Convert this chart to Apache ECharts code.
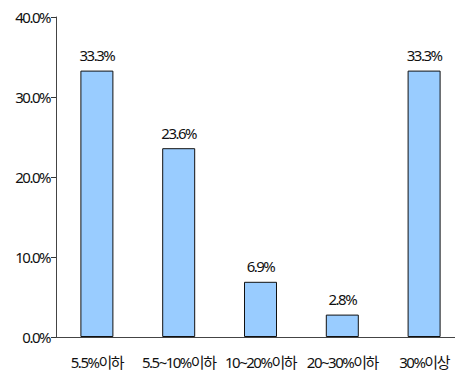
<!DOCTYPE html>
<html><head><meta charset="utf-8">
<script src="https://cdn.jsdelivr.net/npm/echarts@6/dist/echarts.min.js"></script>
<style>html,body{margin:0;padding:0;background:#fff;overflow:hidden;}#c{width:455px;height:372px;}
#c text{letter-spacing:-1.5px;}</style>
</head><body><div id="c"></div>
<script>
var categories = ['5.5%이하', '5.5~10%이하', '10~20%이하', '20~30%이하', '30%이상'];
var values = [33.3, 23.6, 6.9, 2.8, 33.3];
var yTicks = [0, 10, 20, 30, 40];
var FONT = "'Noto Sans', 'Noto Sans CJK KR', sans-serif";
var chart = echarts.init(document.getElementById('c'), null, {renderer: 'svg'});
chart.setOption({
  animation: false,
  backgroundColor: '#fff',
  grid: {left: 56, top: 17, right: -10, bottom: 35, containLabel: false, outerBoundsMode: 'none'},
  xAxis: {
    type: 'category', data: categories,
    axisLine: {lineStyle: {color: '#444', width: 1}},
    axisTick: {inside: true, length: 5, lineStyle: {color: '#333'}},
    axisLabel: {color: '#111', fontSize: 15, fontFamily: FONT, margin: 17, interval: 0}
  },
  yAxis: {
    type: 'value', min: yTicks[0], max: yTicks[yTicks.length - 1], interval: 10,
    axisLine: {show: true, lineStyle: {color: '#444', width: 1}},
    axisTick: {show: true, length: 5, lineStyle: {color: '#333'}},
    splitLine: {show: false},
    axisLabel: {color: '#111', fontSize: 15, fontFamily: FONT, margin: 6,
      formatter: function (v) { return v.toFixed(1) + '%'; }}
  },
  series: [{
    type: 'bar', data: values, barWidth: 33,
    itemStyle: {color: '#99ccff', borderColor: '#111', borderWidth: 1},
    label: {show: true, position: 'top', distance: 8, color: '#111', fontSize: 15, fontFamily: FONT,
      formatter: function (p) { return p.value.toFixed(1) + '%'; }}
  }]
});
</script></body></html>
